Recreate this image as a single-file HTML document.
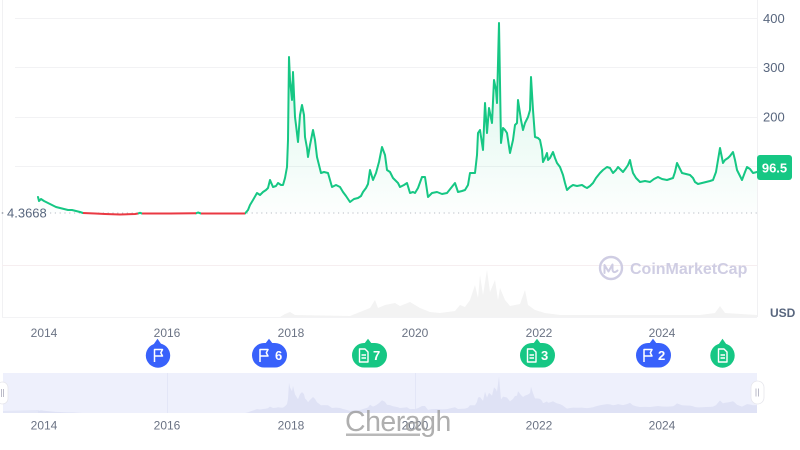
<!DOCTYPE html>
<html><head><meta charset="utf-8"><style>
html,body{margin:0;padding:0;background:#fff;}
svg{display:block;}
text{font-family:"Liberation Sans",sans-serif;}
</style></head><body>
<svg width="800" height="450" viewBox="0 0 800 450" xmlns="http://www.w3.org/2000/svg">
<defs>
<linearGradient id="gf" x1="0" y1="20" x2="0" y2="213" gradientUnits="userSpaceOnUse">
<stop offset="0" stop-color="#16c784" stop-opacity="0.22"/>
<stop offset="0.6" stop-color="#16c784" stop-opacity="0.08"/>
<stop offset="1" stop-color="#16c784" stop-opacity="0.01"/>
</linearGradient>
<path id="pa" d="M38,213 L38,197 L39,201 L41,199 L44,201 L48,203 L52,205 L56,207 L60,208 L64,209 L68,210 L72,210 L76,211 L80,212 L83,213 L245,213 L248,210 L250,205 L253,200 L257,193 L260,195 L263,192 L266,190 L268,188 L270,180 L273,187 L276,186 L278,183 L281,185 L283,185 L285,178 L287,167 L288,140 L289,57 L290,80 L292,100 L293,72 L295,117 L296,125 L298,142 L300,115 L302,105 L304,115 L305,137 L307,148 L308,157 L310,145 L313,130 L315,140 L317,157 L319,165 L321,173 L324,172 L328,173 L330,180 L332,187 L336,185 L340,187 L343,192 L346,196 L350,202 L354,199 L358,198 L361,196 L363,192 L366,188 L368,184 L370,170 L373,180 L376,173 L379,162 L382,147 L385,155 L387,170 L390,172 L393,178 L395,180 L398,183 L400,187 L404,185 L407,183 L410,193 L413,192 L415,193 L418,188 L422,177 L425,177 L428,197 L432,193 L437,192 L442,194 L447,193 L451,188 L455,183 L458,192 L462,191 L465,190 L468,185 L470,173 L475,173 L477,155 L478,133 L480,130 L483,150 L485,103 L487,133 L489,108 L492,123 L494,80 L496,90 L497,103 L499,23 L501,143 L503,128 L505,130 L507,133 L510,153 L513,140 L515,125 L517,123 L518,100 L521,120 L523,130 L525,123 L528,117 L530,110 L531,77 L533,110 L535,137 L538,138 L540,140 L542,150 L543,162 L545,158 L547,153 L548,160 L550,158 L553,152 L555,158 L557,163 L560,167 L563,175 L565,183 L567,190 L570,187 L573,185 L577,186 L582,185 L585,187 L587,188 L590,186 L593,183 L596,178 L600,173 L603,170 L607,167 L610,168 L613,173 L616,170 L618,167 L621,170 L623,172 L626,168 L628,165 L630,160 L631,165 L633,173 L636,178 L640,182 L645,181 L650,182 L654,179 L658,177 L662,179 L667,180 L670,179 L673,178 L675,172 L677,163 L679,167 L682,173 L686,174 L690,175 L693,178 L695,182 L698,184 L702,183 L706,182 L710,181 L713,180 L716,172 L718,160 L720,148 L722,158 L723,163 L725,160 L728,158 L730,156 L733,152 L735,160 L737,170 L740,176 L742,180 L745,172 L747,167 L750,169 L753,173 L757,172 L757,213 Z"/>
</defs>
<!-- frame lines -->
<line x1="2.5" y1="0" x2="2.5" y2="317" stroke="#f1f1f3" stroke-width="1"/>
<line x1="757.5" y1="0" x2="757.5" y2="317" stroke="#f1f1f3" stroke-width="1"/>
<!-- gridlines -->
<g stroke="#f2f2f4" stroke-width="1">
<line x1="15" y1="18.5" x2="757" y2="18.5"/>
<line x1="15" y1="67.5" x2="757" y2="67.5"/>
<line x1="15" y1="117.5" x2="757" y2="117.5"/>
<line x1="15" y1="166.5" x2="757" y2="166.5"/>
<line x1="2" y1="265.5" x2="757" y2="265.5" stroke="#f6eef0"/>
<line x1="2" y1="317.5" x2="757" y2="317.5" stroke="#f3f3f5"/>
</g>
<!-- volume -->
<path d="M280 317 L285 314 L290 312 L295 315 L350 316 L360 312 L370 308 L375 300 L378 308 L385 305 L395 303 L400 306 L410 302 L420 308 L430 312 L440 313 L455 311 L460 305 L465 307 L470 300 L475 285 L478 298 L480 275 L483 295 L487 270 L490 292 L495 280 L498 300 L500 288 L505 300 L510 306 L520 304 L525 290 L528 305 L535 310 L545 313 L560 315 L600 315 L700 315 L715 313 L720 306 L725 313 L757 315 L757 317 Z" fill="#f3f3f3"/>
<!-- CoinMarketCap watermark -->
<circle cx="611" cy="268" r="11" fill="none" stroke="#cfcde3" stroke-width="2.4"/>
<path d="M604.5 273 L604.5 265 L608.5 271.5 L612.5 264.5 L612.5 270 Q613.5 274 617.5 270.5" fill="none" stroke="#cfcde3" stroke-width="2" stroke-linejoin="round" stroke-linecap="round"/>
<text x="630" y="274" font-size="16" font-weight="600" fill="#cfcde3">CoinMarketCap</text>
<!-- baseline dotted -->
<line x1="50" y1="213" x2="757" y2="213" stroke="#b8bcc6" stroke-width="1" stroke-dasharray="1.2 3.6"/>
<circle cx="2.5" cy="213" r="0.9" fill="#9aa0ab"/>
<text x="7" y="217.5" font-size="13" fill="#58667e">4.3668</text>
<!-- price area fill -->
<use href="#pa" fill="url(#gf)"/>
<!-- green line -->
<path d="M38,197 L39,201 L41,199 L44,201 L48,203 L52,205 L56,207 L60,208 L64,209 L68,210 L72,210 L76,211 L80,212 L83,213 M138,213.5 L140,212.8 L142,213.5 M196,213.3 L198,212.5 L201,213.5 M245,213.5 L248,210 L250,205 L253,200 L257,193 L260,195 L263,192 L266,190 L268,188 L270,180 L273,187 L276,186 L278,183 L281,185 L283,185 L285,178 L287,167 L288,140 L289,57 L290,80 L292,100 L293,72 L295,117 L296,125 L298,142 L300,115 L302,105 L304,115 L305,137 L307,148 L308,157 L310,145 L313,130 L315,140 L317,157 L319,165 L321,173 L324,172 L328,173 L330,180 L332,187 L336,185 L340,187 L343,192 L346,196 L350,202 L354,199 L358,198 L361,196 L363,192 L366,188 L368,184 L370,170 L373,180 L376,173 L379,162 L382,147 L385,155 L387,170 L390,172 L393,178 L395,180 L398,183 L400,187 L404,185 L407,183 L410,193 L413,192 L415,193 L418,188 L422,177 L425,177 L428,197 L432,193 L437,192 L442,194 L447,193 L451,188 L455,183 L458,192 L462,191 L465,190 L468,185 L470,173 L475,173 L477,155 L478,133 L480,130 L483,150 L485,103 L487,133 L489,108 L492,123 L494,80 L496,90 L497,103 L499,23 L501,143 L503,128 L505,130 L507,133 L510,153 L513,140 L515,125 L517,123 L518,100 L521,120 L523,130 L525,123 L528,117 L530,110 L531,77 L533,110 L535,137 L538,138 L540,140 L542,150 L543,162 L545,158 L547,153 L548,160 L550,158 L553,152 L555,158 L557,163 L560,167 L563,175 L565,183 L567,190 L570,187 L573,185 L577,186 L582,185 L585,187 L587,188 L590,186 L593,183 L596,178 L600,173 L603,170 L607,167 L610,168 L613,173 L616,170 L618,167 L621,170 L623,172 L626,168 L628,165 L630,160 L631,165 L633,173 L636,178 L640,182 L645,181 L650,182 L654,179 L658,177 L662,179 L667,180 L670,179 L673,178 L675,172 L677,163 L679,167 L682,173 L686,174 L690,175 L693,178 L695,182 L698,184 L702,183 L706,182 L710,181 L713,180 L716,172 L718,160 L720,148 L722,158 L723,163 L725,160 L728,158 L730,156 L733,152 L735,160 L737,170 L740,176 L742,180 L745,172 L747,167 L750,169 L753,173 L757,172" fill="none" stroke="#16c784" stroke-width="2" stroke-linejoin="round" stroke-linecap="round"/>
<!-- red line -->
<path d="M83,213 L95,213.5 L105,214 L120,214.5 L135,214 L138,213.5 M142,213.5 L170,213.5 L196,213.3 M201,213.5 L245,213.5" fill="none" stroke="#ea3943" stroke-width="2" stroke-linejoin="round"/>
<!-- y axis labels -->
<g font-size="13" fill="#58667e">
<text x="763" y="23">400</text>
<text x="763" y="72">300</text>
<text x="763" y="121.5">200</text>
</g>
<rect x="757" y="155" width="35" height="25" rx="3" fill="#16c784"/>
<text x="774.5" y="172.5" font-size="13" font-weight="bold" fill="#fff" text-anchor="middle">96.5</text>
<text x="770" y="317" font-size="12" font-weight="bold" fill="#58667e">USD</text>
<!-- x axis labels -->
<g font-size="12" fill="#6b7384" text-anchor="middle">
<text x="44" y="337">2014</text>
<text x="167" y="337">2016</text>
<text x="291" y="337">2018</text>
<text x="415" y="337">2020</text>
<text x="539" y="337">2022</text>
<text x="662" y="337">2024</text>
</g>
<!-- markers -->
<g>
<circle cx="158" cy="355.5" r="12.2" fill="#3861fb"/>
<polygon points="153.5,344.5 157.5,338.8 161.5,344.5" fill="#3861fb"/>
<path d="M154.5,362 L154.5,349.5 L162.5,349.5 L160.8,352.8 L162.5,356 L154.5,356" fill="none" stroke="#fff" stroke-width="1.5" stroke-linejoin="round"/>
<rect x="252" y="343" width="35" height="24.5" rx="12.2" fill="#3861fb"/>
<polygon points="265,344 269,338.8 273,344" fill="#3861fb"/>
<path d="M260,362 L260,349.5 L268,349.5 L266.3,352.8 L268,356 L260,356" fill="none" stroke="#fff" stroke-width="1.5" stroke-linejoin="round"/>
<text x="275" y="360" font-size="13" font-weight="bold" fill="#fff">6</text>
<rect x="352" y="343" width="35" height="24.5" rx="12.2" fill="#16c784"/>
<polygon points="364,344 368,338.8 372,344" fill="#16c784"/>
<path d="M359.5,349 L365,349 L368,352 L368,362 L359.5,362 Z M361.5,355 L366,355 M361.5,358 L366,358" fill="none" stroke="#fff" stroke-width="1.4" stroke-linejoin="round"/>
<text x="373" y="360" font-size="13" font-weight="bold" fill="#fff">7</text>
<rect x="520" y="343" width="35" height="24.5" rx="12.2" fill="#16c784"/>
<polygon points="533,344 537,338.8 541,344" fill="#16c784"/>
<path d="M527.5,349 L533,349 L536,352 L536,362 L527.5,362 Z M529.5,355 L534,355 M529.5,358 L534,358" fill="none" stroke="#fff" stroke-width="1.4" stroke-linejoin="round"/>
<text x="541" y="360" font-size="13" font-weight="bold" fill="#fff">3</text>
<rect x="636" y="343" width="35" height="24.5" rx="12.2" fill="#3861fb"/>
<polygon points="649,344 653,338.8 657,344" fill="#3861fb"/>
<path d="M644,362 L644,349.5 L652,349.5 L650.3,352.8 L652,356 L644,356" fill="none" stroke="#fff" stroke-width="1.5" stroke-linejoin="round"/>
<text x="658" y="360" font-size="13" font-weight="bold" fill="#fff">2</text>
<circle cx="722.5" cy="355.5" r="12.2" fill="#16c784"/>
<polygon points="718.5,344.5 722.5,338.8 726.5,344.5" fill="#16c784"/>
<path d="M718.5,349 L724,349 L727,352 L727,362 L718.5,362 Z M720.5,355 L725,355 M720.5,358 L725,358" fill="none" stroke="#fff" stroke-width="1.4" stroke-linejoin="round"/>
</g>
<!-- navigator -->
<rect x="3" y="373" width="754" height="40" fill="#eef0fc"/>
<line x1="167.5" y1="373" x2="167.5" y2="413" stroke="#e3e6f7" stroke-width="1"/>
<line x1="415.5" y1="373" x2="415.5" y2="413" stroke="#e3e6f7" stroke-width="1"/>
<g transform="translate(0,371.9) scale(1,0.193)">
<use href="#pa" fill="#dfe2f5"/>
</g>
<path d="M3,411 L38,410 L38,413 L3,413 Z" fill="#e4e7f7"/>
<!-- handles -->
<rect x="-3" y="382" width="11" height="22" rx="5.5" fill="#fff" stroke="#e6e6ec" stroke-width="0.8"/>
<line x1="1.5" y1="389" x2="1.5" y2="397" stroke="#aab" stroke-width="0.8"/>
<line x1="3.5" y1="389" x2="3.5" y2="397" stroke="#aab" stroke-width="0.8"/>
<rect x="751" y="381" width="13" height="23" rx="6.5" fill="#fff" stroke="#e6e6ec" stroke-width="0.8"/>
<line x1="756" y1="388.5" x2="756" y2="396.5" stroke="#aab" stroke-width="0.8"/>
<line x1="758.5" y1="388.5" x2="758.5" y2="396.5" stroke="#aab" stroke-width="0.8"/>
<!-- navigator labels -->
<g font-size="12" fill="#6b7384" text-anchor="middle">
<text x="44" y="429.5">2014</text>
<text x="167" y="429.5">2016</text>
<text x="291" y="429.5">2018</text>
<text x="415" y="429.5">2020</text>
<text x="539" y="429.5">2022</text>
<text x="662" y="429.5">2024</text>
</g>
<!-- Cheragh watermark -->
<text x="345" y="431" font-size="28.5" fill="#9c9c9c" opacity="0.8" letter-spacing="-0.5">Cheragh</text>
<rect x="346" y="433.5" width="74" height="2.5" fill="#a8a8a8" opacity="0.8"/>
</svg>
</body></html>
